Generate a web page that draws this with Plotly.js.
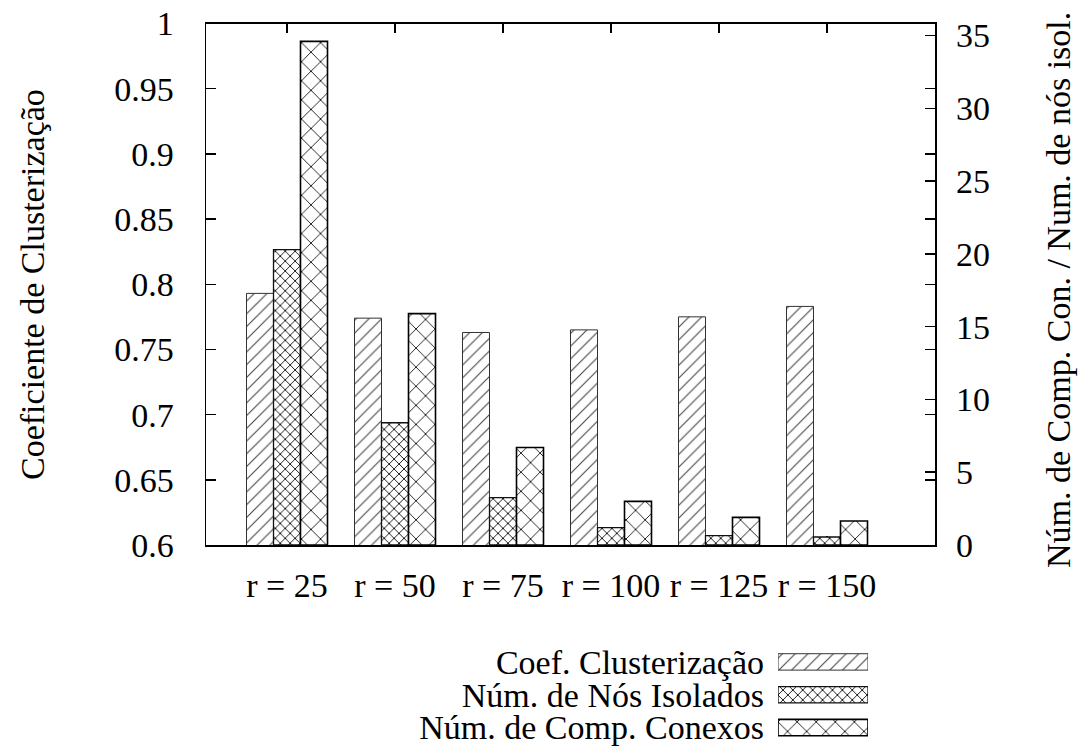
<!DOCTYPE html>
<html>
<head>
<meta charset="utf-8">
<script src="https://cdn.plot.ly/plotly-3.0.1.min.js"></script>
<style>html,body{margin:0;padding:0;background:#fff;}#chart{width:1078px;height:751px;}</style>
</head>
<body>
<div id="chart"></div>
<script>
// ---- data ----
const categories = ['r = 25', 'r = 50', 'r = 75', 'r = 100', 'r = 125', 'r = 150'];
const coefClusterizacao = [0.793, 0.774, 0.763, 0.765, 0.775, 0.783];
const nosIsolados = [20.3, 8.4, 3.25, 1.2, 0.65, 0.55];
const compConexos = [34.6, 15.9, 6.7, 3.0, 1.9, 1.65];
const seriesNames = ['Coef. Clusterização', 'Núm. de Nós Isolados', 'Núm. de Comp. Conexos'];
const leftTickVals = [0.6, 0.65, 0.7, 0.75, 0.8, 0.85, 0.9, 0.95, 1.0];
const leftTickText = ['0.6', '0.65', '0.7', '0.75', '0.8', '0.85', '0.9', '0.95', '1'];
const rightTickVals = [0, 5, 10, 15, 20, 25, 30, 35];
const leftTitle = 'Coeficiente de Clusterização';
const rightTitle = 'Núm. de Comp. Con. / Num. de nós isol.';
const legendSample = [1, 1, 1];

// ---- styles ----
const FONT = 'Liberation Serif';
const FS = 34;
const styles = [
  {line: {color: '#333', width: 1}, pattern: {shape: '/', fgcolor: '#444', bgcolor: 'white', size: 9, solidity: 0.12}},
  {line: {color: '#111', width: 1.3}, pattern: {shape: 'x', fgcolor: '#111', bgcolor: 'white', size: 7, solidity: 0.25}},
  {line: {color: '#000', width: 1.6}, pattern: {shape: 'x', fgcolor: '#000', bgcolor: 'white', size: 13.5, solidity: 0.12}}
];
const offsets = [-0.375, -0.125, 0.125];
const W = 0.25;

const seriesValues = [coefClusterizacao, nosIsolados, compConexos];
const seriesAxes = ['y', 'y2', 'y2'];

const traces = seriesValues.map((vals, i) => ({
  type: 'bar', x: categories, y: vals, name: seriesNames[i],
  xaxis: 'x', yaxis: seriesAxes[i], width: W, offset: offsets[i],
  marker: {color: 'white', line: styles[i].line, pattern: styles[i].pattern},
  showlegend: false, hoverinfo: 'x+y'
}));

// legend samples drawn as bars on a small auxiliary axis
seriesNames.forEach((nm, i) => {
  traces.push({
    type: 'bar', orientation: 'h', y: [nm], x: [legendSample[i]],
    xaxis: 'x3', yaxis: 'y3', width: 0.5, offset: -0.25,
    marker: {color: 'white', line: styles[i].line, pattern: styles[i].pattern},
    showlegend: false, hoverinfo: 'skip'
  });
});

const W0 = 1078, H0 = 751;
const px = v => v / W0;
const py = v => (H0 - v) / H0;

const layout = {
  width: W0, height: H0,
  margin: {l: 0, r: 0, t: 0, b: 0},
  paper_bgcolor: 'white', plot_bgcolor: 'white',
  font: {family: FONT, size: FS, color: '#000'},
  barmode: 'group',
  showlegend: false,
  xaxis: {
    domain: [px(206), px(935)], anchor: 'y', type: 'category',
    range: [-0.75, 6.0], showgrid: false, zeroline: false,
    showline: true, linecolor: '#000', linewidth: 1.5, mirror: 'ticks',
    ticks: 'inside', ticklen: 9, tickwidth: 1.5, tickcolor: '#000',
    tickfont: {family: FONT, size: FS}, ticklabelstandoff: 10,
    layer: 'below traces'
  },
  yaxis: {
    domain: [py(545), py(23.5)], anchor: 'x', range: [0.6, 1.0],
    tickvals: leftTickVals, ticktext: leftTickText,
    showgrid: false, zeroline: false,
    showline: true, linecolor: '#000', linewidth: 1.5, mirror: 'ticks',
    ticks: 'inside', ticklen: 10, tickwidth: 1.5, tickcolor: '#000',
    tickfont: {family: FONT, size: FS}, ticklabelstandoff: 24
  },
  yaxis2: {
    overlaying: 'y', side: 'right', anchor: 'x', range: [0, 35.83],
    tickvals: rightTickVals, showgrid: false, zeroline: false, showline: false,
    ticks: 'inside', ticklen: 10, tickwidth: 1.5, tickcolor: '#000',
    tickfont: {family: FONT, size: FS}, ticklabelstandoff: 20
  },
  xaxis3: {
    domain: [px(778), px(868)], anchor: 'y3', range: [0, 1],
    visible: false, fixedrange: true
  },
  yaxis3: {
    domain: [py(744), py(645.5)], anchor: 'x3', type: 'category',
    range: [2.5, -0.5], showgrid: false, zeroline: false, showline: false,
    tickmode: 'array', tickvals: seriesNames, ticktext: seriesNames,
    ticks: '', tickfont: {family: FONT, size: FS}, ticklabelstandoff: 13,
    fixedrange: true
  },
  annotations: [
    {text: leftTitle, xref: 'paper', yref: 'paper', x: px(32), y: py(285),
     textangle: -90, showarrow: false, xanchor: 'center', yanchor: 'middle',
     font: {family: FONT, size: FS}},
    {text: rightTitle, xref: 'paper', yref: 'paper', x: px(1058), y: py(290),
     textangle: -90, showarrow: false, xanchor: 'center', yanchor: 'middle',
     font: {family: FONT, size: FS}}
  ]
};

Plotly.newPlot('chart', traces, layout, {staticPlot: true, displayModeBar: false});
</script>
</body>
</html>
